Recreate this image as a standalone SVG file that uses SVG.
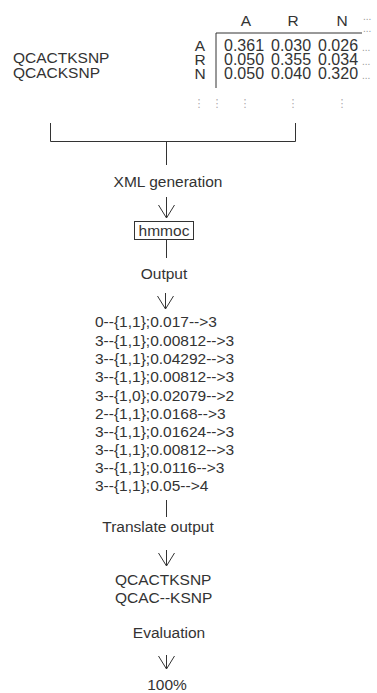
<svg xmlns="http://www.w3.org/2000/svg" width="377" height="693" viewBox="0 0 377 693">
<style>
text{font-family:"Liberation Sans",Arial,sans-serif;font-size:15.5px;fill:#333}
.m{text-anchor:middle}
.num{font-size:16px}
.dots{font-size:10px;fill:#999}
.vd{font-family:"DejaVu Sans",sans-serif;font-size:11px;fill:#aaa;text-anchor:middle}
.ln{stroke:#333;stroke-width:1;fill:none}
</style>
<defs>
<marker id="ah" markerUnits="userSpaceOnUse" markerWidth="20" markerHeight="20" refX="0" refY="0" orient="auto" viewBox="-15 -10 20 20" overflow="visible">
<path d="M-13,-8 L0,0 L-13,8" fill="none" stroke="#333" stroke-width="1"/>
</marker>
</defs>
<rect width="377" height="693" fill="#fff"/>
<g id="sequences">
<text x="13" y="63">QCACTKSNP</text>
<text x="13" y="78">QCACKSNP</text>
</g>
<g id="matrix">
<text class="m" x="246" y="26">A</text>
<text class="m" x="293" y="26">R</text>
<text class="m" x="342" y="26">N</text>
<text class="dots" x="363" y="20">...</text>
<text class="dots" x="363" y="32">...</text>
<path class="ln" d="M216,33 H362 M216,33 V88"/>
<text class="m" x="200" y="51">A</text>
<text class="m" x="200" y="65">R</text>
<text class="m" x="200" y="79">N</text>
<text class="num" x="224" y="51">0.361</text>
<text class="num" x="271" y="51">0.030</text>
<text class="num" x="318" y="51">0.026</text>
<text class="dots" x="362" y="51">...</text>
<text class="num" x="224" y="65">0.050</text>
<text class="num" x="271" y="65">0.355</text>
<text class="num" x="318" y="65">0.034</text>
<text class="dots" x="362" y="65">...</text>
<text class="num" x="224" y="79">0.050</text>
<text class="num" x="271" y="79">0.040</text>
<text class="num" x="318" y="79">0.320</text>
<text class="dots" x="362" y="79">...</text>
<text class="vd" x="199" y="107">⋮</text>
<text class="vd" x="217" y="107">⋮</text>
<text class="vd" x="245" y="107">⋮</text>
<text class="vd" x="293" y="107">⋮</text>
<text class="vd" x="342" y="107">⋮</text>
</g>
<g id="xml-generation"><text class="m" x="168" y="187">XML generation</text></g>
<g id="hmmoc">
<rect x="134.5" y="221.5" width="59" height="18" fill="#fff" stroke="#333" stroke-width="1"/>
<text class="m" x="164" y="236">hmmoc</text>
</g>
<g id="output-label"><text class="m" x="164" y="279">Output</text></g>
<g id="output-lines">
<text x="95" y="327">0--{1,1};0.017--&gt;3</text>
<text x="95" y="345.5">3--{1,1};0.00812--&gt;3</text>
<text x="95" y="364">3--{1,1};0.04292--&gt;3</text>
<text x="95" y="382">3--{1,1};0.00812--&gt;3</text>
<text x="95" y="400.5">3--{1,0};0.02079--&gt;2</text>
<text x="95" y="418.5">2--{1,1};0.0168--&gt;3</text>
<text x="95" y="436.5">3--{1,1};0.01624--&gt;3</text>
<text x="95" y="454.5">3--{1,1};0.00812--&gt;3</text>
<text x="95" y="472.5">3--{1,1};0.0116--&gt;3</text>
<text x="95" y="490.5">3--{1,1};0.05--&gt;4</text>
</g>
<g id="translate-output"><text class="m" x="158" y="532">Translate output</text></g>
<g id="alignment">
<text x="115" y="585">QCACTKSNP</text>
<text x="115" y="603">QCAC--KSNP</text>
</g>
<g id="evaluation"><text class="m" x="169" y="638">Evaluation</text></g>
<g id="result"><text class="m" x="167" y="690">100%</text></g>
<g id="connectors">
<path class="ln" d="M50.5,123 V141.5 H295.5 V123 M166.5,141.5 V165"/>
<line class="ln" x1="166.5" y1="197" x2="166.5" y2="218" marker-end="url(#ah)"/>
<line class="ln" x1="166.5" y1="240" x2="166.5" y2="258"/>
<line class="ln" x1="165.5" y1="293" x2="165.5" y2="309" marker-end="url(#ah)"/>
<line class="ln" x1="166.5" y1="500" x2="166.5" y2="517"/>
<line class="ln" x1="166.5" y1="550" x2="166.5" y2="566" marker-end="url(#ah)"/>
<line class="ln" x1="166.5" y1="655" x2="166.5" y2="669" marker-end="url(#ah)"/>
</g>
</svg>
